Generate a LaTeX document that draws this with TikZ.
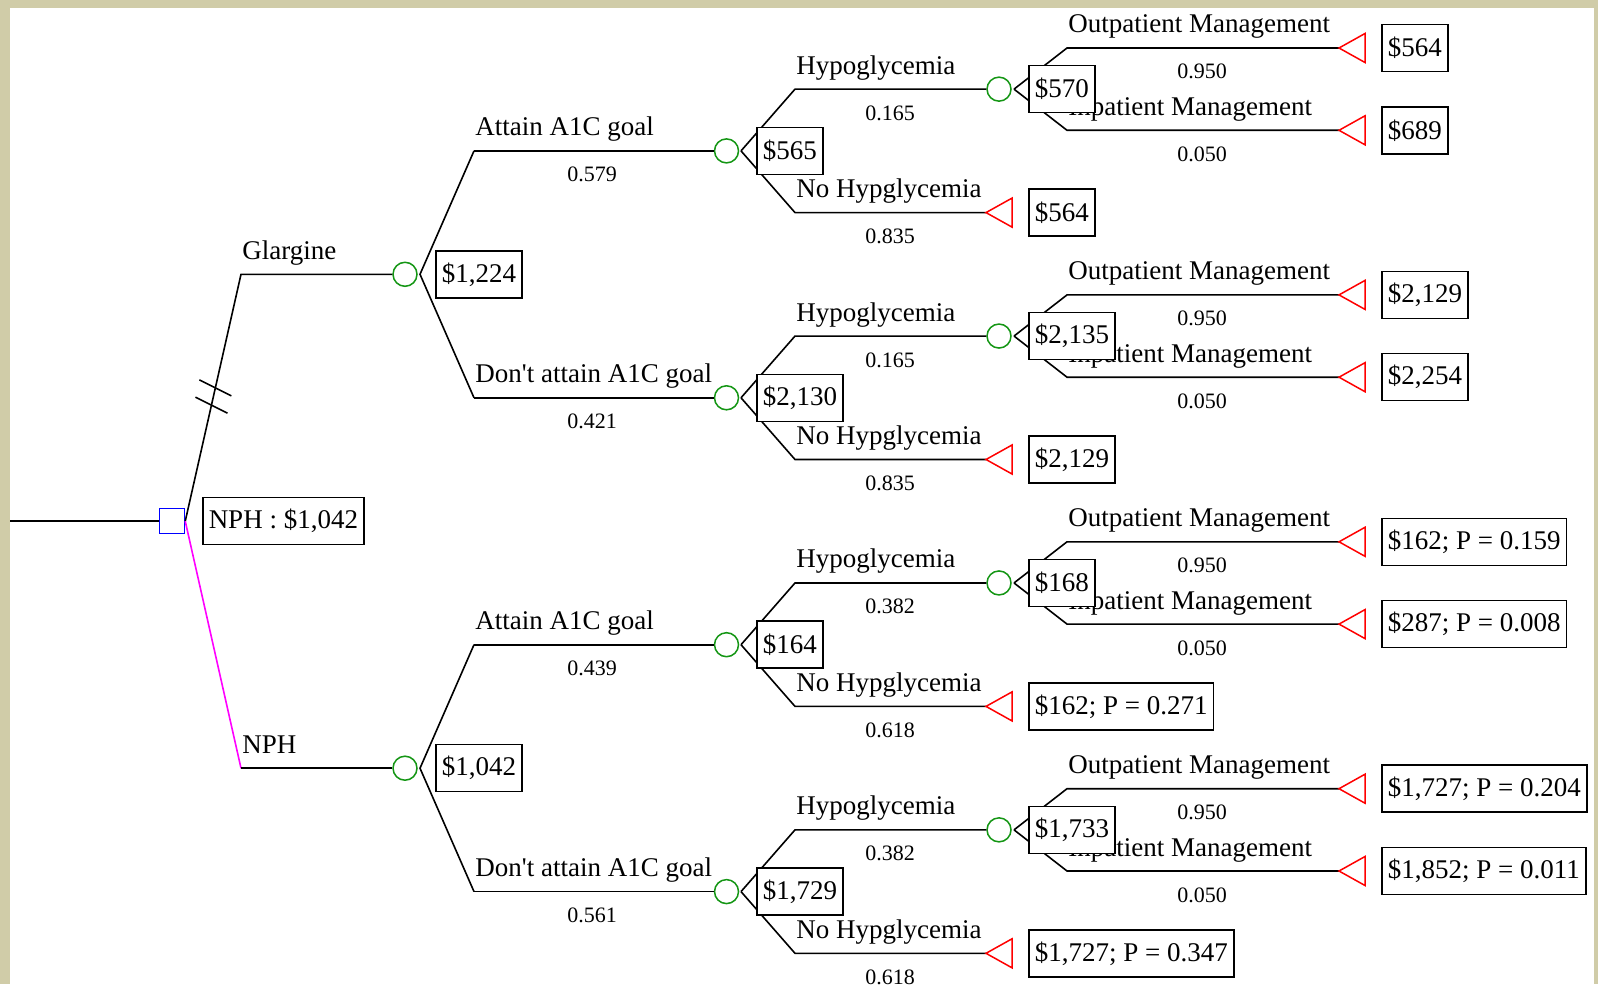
\documentclass[tikz,border=0pt]{standalone}
\usepackage{fontspec}
\setmainfont{Liberation Serif}
\usepackage{tikz}
\usetikzlibrary{calc,positioning}
\definecolor{framebeige}{RGB}{208,204,168}
\definecolor{chancegreen}{RGB}{20,150,20}
\definecolor{nphpink}{RGB}{255,0,255}

\begin{document}
\begin{tikzpicture}[x=0.5pt, y=-0.5pt,
	branch/.style={line width=0.8pt},
	chance/.style={circle, draw=chancegreen, line width=0.75pt, minimum size=12pt, inner sep=0pt},
	decision/.style={rectangle, draw=blue, line width=0.75pt, minimum size=12.5pt, inner sep=0pt},
	value/.style={draw, fill=white, line width=0.75pt, anchor=west, minimum height=23.5pt, inner xsep=3pt, inner ysep=0pt, font=\fontsize{13.5}{16}\selectfont},
	lab/.style={anchor=base west, inner sep=0pt, font=\fontsize{13.5}{16}\selectfont},
	prob/.style={anchor=base, inner sep=0pt, font=\fontsize{11}{13}\selectfont},
	term/.style={draw=red, line width=0.75pt}]
	\useasboundingbox (0,0) rectangle (1598,984);
	\fill[framebeige] (0,0) rectangle (1598,984);
	\fill[white] (10,8) rectangle (1594,984);

	% root and the two treatments
	\coordinate (in) at (10,521.2);
	\node (root) [decision] at (172,521.2) {};
	\draw[branch] (in) -- (root.west);
	\node (rootval) [value] at (202,521.2) {NPH : \$1,042};
	\coordinate (gk) at (241,274.3);
	\coordinate (nk) at (241,768.2);
	\node (gl) [chance] at (405,274.3) {};
	\node (nph) [chance] at (405,768.2) {};
	\coordinate (agl) at (420,274.3);
	\coordinate (anph) at (420,768.2);
	\draw[branch] (root.east) -- (gk) -- (gl);
	\draw[branch, nphpink] (root.east) -- (nk);
	\draw[branch] (nk) -- (nph);
	\draw[branch] ($(root.east)!0.47!(gk)$) +(-16,-8) -- +(16,8);
	\draw[branch] ($(root.east)!0.54!(gk)$) +(-16,-8) -- +(16,8);
	\node (lgl) [lab] at (242,259.3) {Glargine};
	\node (lnph) [lab] at (242,753.2) {NPH};

	\foreach \i/\lab/\pa/\va/\pb/\pc/\vb/\vo/\vi/\vn in {
		0/Attain A1C goal/0.579/{\$565}/0.165/0.835/{\$570}/{\$564}/{\$689}/{\$564},
		1/Don\textquotesingle{}t attain A1C goal/0.421/{\$2,130}/0.165/0.835/{\$2,135}/{\$2,129}/{\$2,254}/{\$2,129},
		2/Attain A1C goal/0.439/{\$164}/0.382/0.618/{\$168}/{\$162; P = 0.159}/{\$287; P = 0.008}/{\$162; P = 0.271},
		3/Don\textquotesingle{}t attain A1C goal/0.561/{\$1,729}/0.382/0.618/{\$1,733}/{\$1,727; P = 0.204}/{\$1,852; P = 0.011}/{\$1,727; P = 0.347}} {
		\pgfmathsetmacro\yo{48+246.9*\i}
		\pgfmathsetmacro\yn{\yo+82.3}
		\pgfmathsetmacro\yf{\yo+164.6}
		\pgfmathsetmacro\yh{\yo+41.15}
		\pgfmathsetmacro\yc{\yo+102.9}
		% A1C goal
		\coordinate (k\i) at (474,\yc);
		\node (c\i) [chance] at (726.5,\yc) {};
		\coordinate (a\i) at (741,\yc);
		\draw[branch] (k\i) -- (c\i);
		\node (l\i) [lab] at (475,\yc-15) {\lab};
		\node (p\i) [prob] at (592,\yc+31) {\pa};
		% hypoglycemia
		\coordinate (hk\i) at (795,\yh);
		\node (h\i) [chance] at (999,\yh) {};
		\coordinate (ha\i) at (1014,\yh);
		\draw[branch] (a\i) -- (hk\i) -- (h\i);
		\node (lh\i) [lab] at (796,\yh-15) {Hypoglycemia};
		\node (ph\i) [prob] at (890,\yh+31) {\pb};
		% no hypoglycemia
		\coordinate (nk\i) at (795,\yf);
		\coordinate (nt\i) at (986,\yf);
		\draw[branch] (a\i) -- (nk\i) -- (nt\i);
		\draw[term] (nt\i) -- ++(26,-14.5) -- ++(0,29) -- cycle;
		\node (ln\i) [lab] at (796,\yf-15) {No Hypglycemia};
		\node (pn\i) [prob] at (890,\yf+31) {\pc};
		\node (vn\i) [value] at (1028,\yf) {\vn};
		% management
		\coordinate (ok\i) at (1067,\yo);
		\coordinate (ot\i) at (1339,\yo);
		\draw[branch] (ha\i) -- (ok\i) -- (ot\i);
		\draw[term] (ot\i) -- ++(26,-14.5) -- ++(0,29) -- cycle;
		\node (lo\i) [lab] at (1068,\yo-15) {Outpatient Management};
		\node (po\i) [prob] at (1202,\yo+31) {0.950};
		\node (vo\i) [value] at (1381,\yo) {\vo};
		\coordinate (ik\i) at (1067,\yn);
		\coordinate (it\i) at (1339,\yn);
		\draw[branch] (ha\i) -- (ik\i) -- (it\i);
		\draw[term] (it\i) -- ++(26,-14.5) -- ++(0,29) -- cycle;
		\node (li\i) [lab] at (1068,\yn-15) {Inpatient Management};
		\node (pi\i) [prob] at (1202,\yn+31) {0.050};
		\node (vi\i) [value] at (1381,\yn) {\vi};
		% value boxes sit over the branches
		\node (vh\i) [value] at (1028,\yh) {\vb};
		\node (v\i) [value] at (756,\yc) {\va};
	}

	\draw[branch] (k0) -- (agl) -- (k1);
	\draw[branch] (k2) -- (anph) -- (k3);
	\node (vgl) [value] at (435,274.3) {\$1,224};
	\node (vnph) [value] at (435,768.2) {\$1,042};
\end{tikzpicture}
\end{document}
